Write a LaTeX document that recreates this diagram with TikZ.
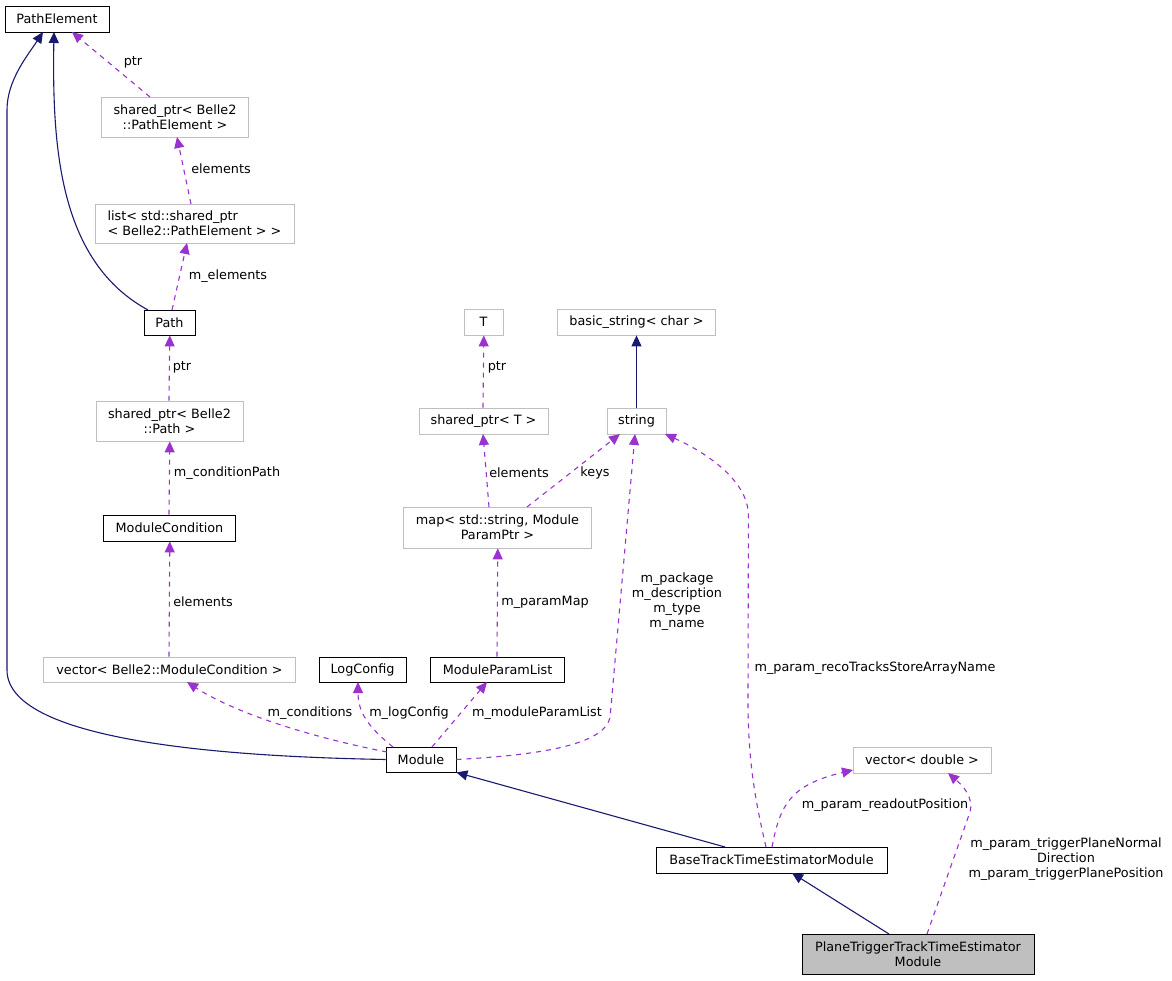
\documentclass[tikz,border=0pt]{standalone}
\usepackage{fontspec}
\setmainfont{DejaVu Sans}
\usetikzlibrary{arrows.meta}
\definecolor{inhcol}{HTML}{191970}
\definecolor{usecol}{HTML}{9A32CD}
\definecolor{grycol}{HTML}{BFBFBF}
\begin{document}
\begin{tikzpicture}[x=1pt, y=-1pt,
  every node/.style = {font=\fontsize{12.8}{15}\selectfont, inner sep=0pt},
  box/.style = {draw=black, line width=0.8pt, minimum height=26pt, align=center},
  grybox/.style = {box, draw=grycol},
  basebox/.style = {box, fill=grycol},
  inh/.style = {draw=inhcol, line width=1.1pt, -{Triangle[length=11pt,width=10pt]}},
  use/.style = {draw=usecol, line width=1.1pt, dash pattern=on 5pt off 5pt, -{Triangle[length=11pt,width=10pt]}},
  lbl/.style = {align=center}]
\useasboundingbox (0,0) rectangle (1172,981);
		% classes
		\node[box, minimum width=104pt] (pathel) at (57,19) {PathElement};
		\node[grybox, minimum width=147pt, minimum height=40pt] (spel) at (175,117) {shared\_ptr< Belle2\\::PathElement >};
		\node[grybox, minimum width=199pt, minimum height=39pt, align=left] (lst) at (194.5,223.5) {list< std::shared\_ptr\\< Belle2::PathElement > >};
		\node[box, minimum width=51pt, minimum height=25pt] (path) at (169.5,322.5) {Path};
		\node[grybox, minimum width=147pt, minimum height=40pt] (sppath) at (169.5,421) {shared\_ptr< Belle2\\::Path >};
		\node[box, minimum width=132pt] (modcond) at (169.5,528) {ModuleCondition};
		\node[grybox, minimum width=252pt, minimum height=25pt] (vecmc) at (169.5,669.5) {vector< Belle2::ModuleCondition >};
		\node[box, minimum width=87pt, minimum height=25pt] (logcfg) at (362.5,669.5) {LogConfig};
		\node[box, minimum width=134pt, minimum height=25pt] (mpl) at (497.5,669.5) {ModuleParamList};
		\node[box, minimum width=70pt, minimum height=25pt] (module) at (421,759.5) {Module};
		\node[grybox, minimum width=39pt] (t) at (483.5,322) {T};
		\node[grybox, minimum width=158pt] (bstr) at (636.5,322) {basic\_string< char >};
		\node[grybox, minimum width=129pt] (spt) at (483.5,421) {shared\_ptr< T >};
		\node[grybox, minimum width=59pt] (str) at (636.5,421) {string};
		\node[grybox, minimum width=188pt, minimum height=41pt] (map) at (497.5,527.5) {map< std::string, Module\\ParamPtr >};
		\node[grybox, minimum width=138pt] (vecd) at (922,760) {vector< double >};
		\node[box, minimum width=231pt] (btte) at (771.5,860) {BaseTrackTimeEstimatorModule};
		\node[basebox, minimum width=232pt, minimum height=40pt] (ptte) at (918,954) {PlaneTriggerTrackTimeEstimator\\Module};
		% inheritance
		\draw[inh] (module.west) .. controls (250,757) and (7,745) .. (7,670) -- (7,110) .. controls (7,80) and (28,55) .. (43,32);
		\draw[inh] (148,310) .. controls (60,262) and (52,150) .. (54,32);
		\draw[inh] (str) -- (bstr);
		\draw[inh] (725,847) -- (module.south east);
		\draw[inh] (889,934) -- (792,873);
		% usage
		\draw[use] (150,97) -- (72,32);
		\node[lbl] (l1) at (133,62) {ptr};
		\draw[use] (191,204) -- (177,137);
		\node[lbl] (l2) at (221,169) {elements};
		\draw[use] (172,310) -- (187,243);
		\node[lbl] (l3) at (228,276) {m\_elements};
		\draw[use] ([xshift=-0.5pt]sppath.north) -- ([xshift=0.3pt]path.south);
		\node[lbl] (l4) at (182,367) {ptr};
		\draw[use] ([xshift=-0.5pt]modcond.north) -- ([xshift=0.3pt]sppath.south);
		\node[lbl] (l5) at (227,473) {m\_conditionPath};
		\draw[use] ([xshift=-0.5pt]vecmc.north) -- ([xshift=0.3pt]modcond.south);
		\node[lbl] (l6) at (203,602) {elements};
		\draw[use] (387,752) .. controls (300,735) and (230,710) .. (187,682);
		\node[lbl] (l7) at (310,713) {m\_conditions};
		\draw[use] (393,747) .. controls (368,727) and (358,712) .. (358,682);
		\node[lbl] (l8) at (409,713) {m\_logConfig};
		\draw[use] (432,747) -- (487,682);
		\node[lbl] (l9) at (537,713) {m\_moduleParamList};
		\draw[use] (module.east) .. controls (540,755) and (603,745) .. (610,718) -- (635,434);
		\node[lbl] (l10) at (677,601.5) {m\_package\\m\_description\\m\_type\\m\_name};
		\draw[use] (527,507) -- (620,434);
		\node[lbl] (l11) at (595,473) {keys};
		\draw[use] (489,507) -- (483,434);
		\node[lbl] (l12) at (519,473) {elements};
		\draw[use] ([xshift=-0.5pt]spt.north) -- ([xshift=0.3pt]t.south);
		\node[lbl] (l13) at (497,367) {ptr};
		\draw[use] ([xshift=-0.5pt]mpl.north) -- ([xshift=0.3pt]map.south);
		\node[lbl] (l14) at (545,602) {m\_paramMap};
		\draw[use] (766,847) .. controls (755,800) and (748,760) .. (748,700) -- (748.4,515) .. controls (748,480) and (705,452) .. (665,434);
		\node[lbl] (l15) at (875,668) {m\_param\_recoTracksStoreArrayName};
		\draw[use] (772,847) .. controls (780,805) and (790,785) .. (853,770);
		\node[lbl] (l16) at (885,805) {m\_param\_readoutPosition};
		\draw[use] (927,934) -- (970,812) .. controls (974,797) and (962,785) .. (948,773);
		\node[lbl] (l17) at (1066,859) {m\_param\_triggerPlaneNormal\\Direction\\m\_param\_triggerPlanePosition};
\end{tikzpicture}
\end{document}
